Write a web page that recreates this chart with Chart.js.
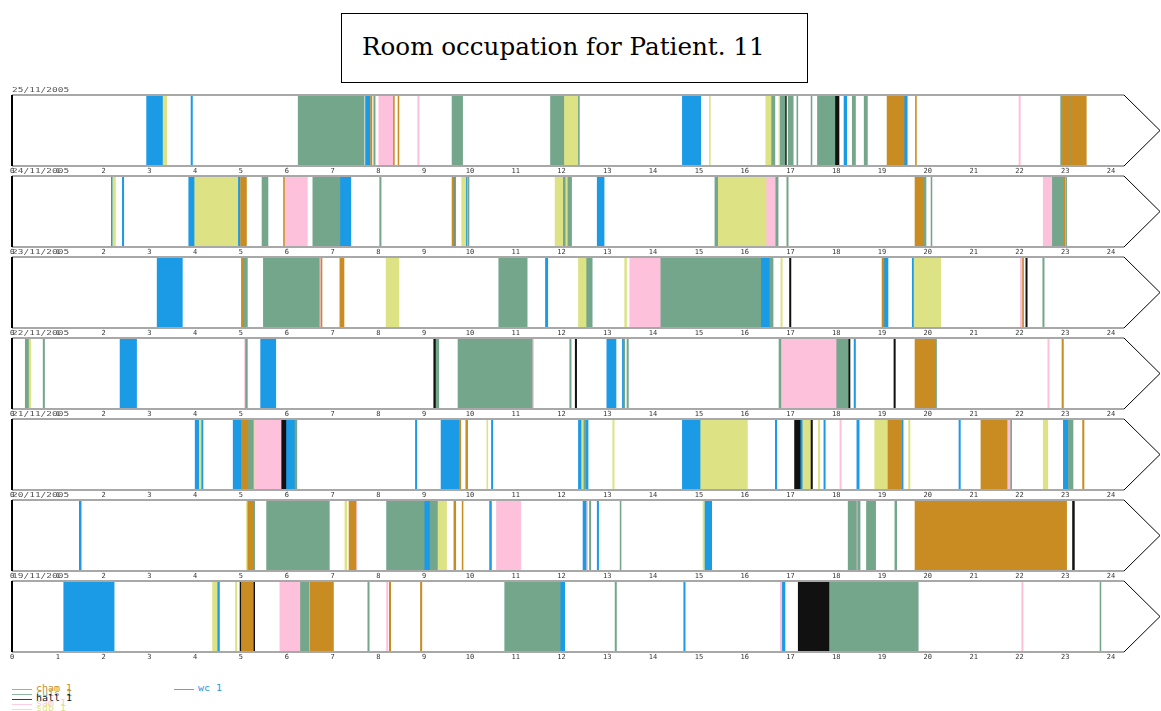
<!DOCTYPE html>
<html>
<head>
<meta charset="utf-8">
<script src="https://cdn.jsdelivr.net/npm/chart.js@4.4.0/dist/chart.umd.min.js"></script>
<style>
  body { margin: 0; background: #fff; width: 1161px; height: 711px; overflow: hidden; position: relative; }
  #title { position: absolute; left: 341px; top: 13px; width: 467px; height: 70px; border: 1.5px solid #000;
           font-family: "DejaVu Serif", serif; font-size: 24.6px; line-height: 66px; padding-left: 20px; box-sizing: border-box; color: #000; }
  .row { position: absolute; left: 0; }
  .lg { position: absolute; font-family: "DejaVu Sans Mono", monospace; font-size: 10px; line-height: 10px; white-space: pre;
        transform: scaleY(0.8); transform-origin: 0 50%; }
  .lg span { display: inline-block; width: 20px; height: 1px; vertical-align: middle; margin-right: 4px; }
</style>
</head>
<body>
<div id="title">Room occupation for Patient. 11</div>
<script>
// DATA

const days = ["25/11/2005", "24/11/2005", "23/11/2005", "22/11/2005", "21/11/2005", "20/11/2005", "19/11/2005"];
const rooms = ["cham", "cuis", "hall", "sam", "sdb", "wc"];
const roomColors = ["#c88c22", "#74a68b", "#111111", "#fdc1dc", "#dde384", "#1b9ae6"];
const hourLabels = ["0","1","2","3","4","5","6","7","8","9","10","11","12","13","14","15","16","17","18","19","20","21","22","23","24"];

// [room, start hour, end hour]
const d25 = [
  ["wc",2.94,3.30],["sdb",3.30,3.38],["wc",3.91,3.94],["cuis",6.25,7.69],["wc",7.72,7.82],["cham",7.83,7.86],
  ["cuis",7.90,7.93],["sam",8.01,8.33],["cham",8.33,8.35],["cham",8.43,8.45],["sam",8.86,8.89],["cuis",9.61,9.84],
  ["cuis",11.76,12.05],["sdb",12.05,12.37],["cuis",12.37,12.39],["wc",14.64,15.04],["sdb",15.23,15.25],
  ["sdb",16.46,16.59],["cuis",16.59,16.66],["sdb",16.75,16.78],["cuis",16.78,16.88],["hall",16.88,16.91],
  ["cuis",16.95,17.06],["cuis",17.14,17.16],["cuis",17.45,17.47],["cuis",17.59,17.97],["hall",17.97,18.06],
  ["wc",18.17,18.23],["cuis",18.35,18.42],["cuis",18.61,18.68],["cham",19.11,19.48],["wc",19.48,19.55],
  ["cham",19.73,19.75],["sam",21.99,22.02],["cuis",22.90,22.94],["cham",22.94,23.10],["cuis",23.10,23.12],["cham",23.12,23.46]
];
const d24 = [
  ["wc",2.17,2.20],["sdb",2.20,2.26],["wc",2.41,2.44],["wc",3.86,3.99],["sdb",3.99,4.93],["wc",4.93,4.98],
  ["cham",4.99,5.12],["cuis",5.46,5.59],["cham",5.93,5.95],["sam",5.96,6.45],["cuis",6.57,7.16],["wc",7.16,7.40],
  ["cuis",8.03,8.06],["cham",9.61,9.64],["wc",9.64,9.67],["cham",9.67,9.69],["sdb",9.82,9.91],["wc",9.91,9.94],
  ["cuis",9.96,9.98],["sdb",11.86,12.04],["cuis",12.04,12.08],["sdb",12.08,12.14],["cuis",12.14,12.22],
  ["wc",12.78,12.93],["cuis",15.35,15.41],["sdb",15.41,16.48],["sam",16.48,16.68],["cuis",16.68,16.73],
  ["cuis",16.92,16.95],["cham",19.72,19.90],["cuis",19.90,19.96],["cuis",20.07,20.09],["sam",22.52,22.72],
  ["cuis",22.72,22.97],["cham",22.97,22.99],["cuis",23.01,23.03]
];
const d23 = [
  ["wc",3.17,3.72],["cham",5.01,5.04],["cuis",5.04,5.14],["cuis",5.49,6.71],["sam",6.71,6.75],["cham",6.75,6.77],
  ["cham",7.16,7.25],["sdb",8.17,8.45],["cuis",10.63,11.25],["wc",11.65,11.70],["sdb",12.37,12.55],["cuis",12.55,12.67],
  ["sdb",13.38,13.42],["sam",13.49,14.17],["cuis",14.17,16.35],["wc",16.35,16.55],["cuis",16.55,16.62],
  ["sdb",16.79,16.82],["hall",16.98,17.01],["cham",19.00,19.04],["wc",19.04,19.13],["wc",19.66,19.69],
  ["sdb",19.70,20.28],["sam",22.02,22.07],["cham",22.07,22.09],["hall",22.14,22.17],["cuis",22.51,22.54]
];
const d22 = [
  ["cuis",0.29,0.36],["sdb",0.36,0.41],["cuis",0.68,0.71],["wc",2.36,2.72],["sam",5.08,5.10],["cuis",5.10,5.14],
  ["wc",5.43,5.76],["hall",9.21,9.26],["cuis",9.26,9.32],["cuis",9.74,11.36],["sam",11.36,11.39],["cuis",12.18,12.21],
  ["hall",12.30,12.33],["wc",12.99,13.19],["wc",13.33,13.36],["cuis",13.36,13.38],["cuis",13.43,13.46],
  ["cuis",16.75,16.79],["sam",16.79,18.01],["cuis",18.01,18.26],["hall",18.26,18.30],["wc",18.39,18.42],
  ["hall",19.26,19.29],["cham",19.72,20.17],["cuis",20.17,20.19],["sam",22.62,22.65],["cham",22.93,22.96]
];
const d21 = [
  ["wc",4.00,4.09],["sdb",4.09,4.13],["wc",4.13,4.17],["wc",4.83,5.01],["cham",5.01,5.15],["cuis",5.15,5.27],
  ["sdb",5.27,5.30],["sam",5.30,5.89],["hall",5.89,5.98],["wc",5.98,6.18],["cuis",6.18,6.22],["wc",8.81,8.84],
  ["wc",9.37,9.77],["cham",9.77,9.80],["cham",9.91,9.95],["sdb",10.37,10.39],["wc",10.47,10.50],["wc",12.37,12.44],
  ["sdb",12.44,12.49],["cuis",12.49,12.53],["wc",12.53,12.58],["sdb",13.12,13.15],["wc",14.64,15.04],
  ["sdb",15.04,16.06],["wc",16.67,16.70],["hall",17.09,17.21],["wc",17.21,17.27],["sdb",17.27,17.45],
  ["hall",17.45,17.48],["sdb",17.61,17.64],["wc",17.73,17.76],["sam",18.08,18.11],["wc",18.45,18.50],
  ["sdb",18.84,19.13],["cham",19.13,19.43],["wc",19.43,19.46],["sdb",19.58,19.61],["wc",20.68,20.71],
  ["cham",21.16,21.73],["sam",21.73,21.81],["cuis",21.81,21.83],["sdb",22.52,22.62],["wc",22.96,23.07],
  ["cuis",23.07,23.17],["cham",23.38,23.41]
];
const d20 = [
  ["wc",1.47,1.51],["sdb",5.12,5.15],["cham",5.15,5.27],["cuis",5.27,5.30],["cuis",5.56,6.93],["sdb",7.27,7.31],
  ["cham",7.36,7.51],["sam",7.51,7.53],["cuis",8.18,9.00],["wc",9.00,9.13],["cuis",9.13,9.29],["sdb",9.29,9.49],
  ["cham",9.65,9.69],["cham",9.83,9.85],["wc",10.43,10.47],["sam",10.58,11.11],["wc",12.47,12.55],["sam",12.55,12.57],
  ["cuis",12.61,12.64],["wc",12.78,12.81],["cuis",13.28,13.30],["sdb",15.09,15.12],["wc",15.12,15.28],
  ["cuis",18.26,18.44],["sam",18.44,18.47],["cuis",18.47,18.52],["cuis",18.66,18.86],["cuis",19.28,19.32],
  ["cham",19.72,23.03],["hall",23.16,23.20]
];
const d19 = [
  ["wc",1.13,2.23],["sdb",4.38,4.48],["wc",4.48,4.53],["sdb",4.88,4.91],["hall",4.98,5.01],["cham",5.01,5.27],
  ["hall",5.27,5.30],["sam",5.85,6.30],["cuis",6.30,6.49],["cham",6.51,7.02],["cuis",7.77,7.80],["sam",8.18,8.21],
  ["cham",8.24,8.27],["cham",8.92,8.95],["cuis",10.76,11.97],["wc",11.97,12.07],["cuis",13.17,13.20],
  ["wc",14.67,14.70],["sam",16.78,16.81],["wc",16.81,16.88],["hall",17.17,17.85],["cuis",17.86,19.79],
  ["sam",22.05,22.08],["cuis",23.76,23.78]
];
const dayStays = [d25, d24, d23, d22, d21, d20, d19];

// FRAME, ARROW & DATE LABEL

const framePlugin = {
  id: "frame",
  afterDraw(chart) {
    const { ctx, chartArea: a } = chart;
    const mid = (a.top + a.bottom) / 2;
    ctx.save();
    ctx.strokeStyle = "#a8a8a8";
    ctx.lineWidth = 2;
    ctx.beginPath();
    ctx.moveTo(a.left, a.top); ctx.lineTo(a.right + 13, a.top);
    ctx.moveTo(a.left, a.bottom); ctx.lineTo(a.right + 13, a.bottom);
    ctx.stroke();
    ctx.strokeStyle = "#000";
    ctx.lineWidth = 1;
    ctx.beginPath();
    ctx.moveTo(a.right + 13, a.top); ctx.lineTo(a.right + 49, mid); ctx.lineTo(a.right + 13, a.bottom);
    ctx.stroke();
    ctx.lineWidth = 2;
    ctx.beginPath();
    ctx.moveTo(a.left, a.top); ctx.lineTo(a.left, a.bottom);
    ctx.stroke();
    // date label, slightly squashed like the original
    ctx.translate(a.left, a.top - 1);
    ctx.scale(1, 0.75);
    ctx.fillStyle = "#555";
    ctx.font = '9.5px "DejaVu Sans Mono"';
    ctx.textBaseline = "bottom";
    ctx.fillText(chart.data.labels[0], 0, 0);
    ctx.restore();
  }
};

// ONE CHART PER DAY

days.forEach((day, i) => {
  const cv = document.createElement("canvas");
  cv.className = "row";
  cv.width = 1161;
  cv.height = 97;
  cv.style.top = (Math.round(94.5 + i * 81.1) - 12) + "px";
  document.body.appendChild(cv);

  new Chart(cv, {
    type: "bar",
    data: {
      labels: [day],
      datasets: rooms.map((r, k) => ({
        label: r,
        backgroundColor: roomColors[k],
        borderWidth: 0,
        grouped: false,
        barPercentage: 1,
        categoryPercentage: 1,
        data: dayStays[i].filter((s) => s[0] === r).map((s) => ({ x: [s[1], s[2]], y: day })),
      })),
    },
    options: {
      indexAxis: "y",
      responsive: false,
      animation: false,
      layout: { padding: { left: 12, right: 50, top: 12, bottom: 0 } },
      plugins: { legend: { display: false }, tooltip: { enabled: false } },
      scales: {
        x: {
          type: "linear", min: 0, max: 24,
          grid: { display: false, drawTicks: false }, border: { display: false },
          ticks: {
            stepSize: 1, autoSkip: false, maxRotation: 0, padding: 1, color: "#333",
            font: { family: "DejaVu Sans Mono", size: 7 },
            callback: (v) => hourLabels[v],
          },
          afterFit(scale) { scale.height = 14; },
        },
        y: { display: false, offset: true },
      },
    },
    plugins: [framePlugin],
  });
});

// LEGEND

rooms.forEach((r, k) => {
  const el = document.createElement("div");
  el.className = "lg";
  const col = r === "wc" ? 1 : 0;
  el.style.left = (col ? 174 : 12) + "px";
  el.style.top = (col ? 684 : 684 + k * 5) + "px";
  el.style.color = roomColors[k];
  el.innerHTML = '<span style="background:' + roomColors[k] + '"></span>' + r + " 1";
  document.body.appendChild(el);
});
</script>
</body>
</html>
